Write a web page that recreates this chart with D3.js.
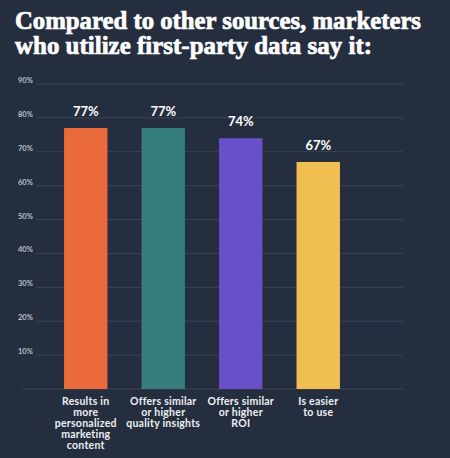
<!DOCTYPE html>
<html>
<head>
<meta charset="utf-8">
<script src="https://cdn.jsdelivr.net/npm/d3@7"></script>
<style>
  html, body { margin: 0; padding: 0; background: #252e3e; }
  svg { display: block; }
</style>
</head>
<body>
<svg id="chart" width="450" height="458"></svg>
<script>
// DATA
const categories = [
  ["Results in", "more", "personalized", "marketing", "content"],
  ["Offers similar", "or higher", "quality insights"],
  ["Offers similar", "or higher", "ROI"],
  ["Is easier", "to use"]
];
const values = [77, 77, 74, 67];
const barColors = ["#ea6a3b", "#367d7d", "#6a4fcb", "#f1be52"];
const yTicks = [10, 20, 30, 40, 50, 60, 70, 80, 90];
const titleLines = [
  "Compared to other sources, marketers",
  "who utilize first-party data say it:"
];

const svg = d3.select("#chart");

// SCALES
const xScale = d3.scaleBand()
  .domain(d3.range(values.length))
  .range([47, 357])
  .paddingInner(0.44)
  .paddingOuter(0.22);

const yScale = d3.scaleLinear()
  .domain([0, 90])
  .range([389, 84]);

// TITLE
svg.append("g")
  .selectAll("text")
  .data(titleLines)
  .join("text")
  .attr("x", 15)
  .attr("y", (d, i) => 29 + i * 25)
  .attr("textLength", (d, i) => i === 0 ? 406 : 357)
  .attr("lengthAdjust", "spacingAndGlyphs")
  .attr("font-family", "'Liberation Serif', serif")
  .attr("font-weight", "bold")
  .attr("font-size", 25)
  .attr("fill", "#ffffff")
  .attr("stroke", "#ffffff")
  .attr("stroke-width", 0.7)
  .text(d => d);

// GRIDLINES + Y LABELS
const grid = svg.append("g");
grid.selectAll("line")
  .data(yTicks)
  .join("line")
  .attr("x1", 36)
  .attr("x2", 403)
  .attr("y1", d => yScale(d))
  .attr("y2", d => yScale(d))
  .attr("stroke", "#3a4556")
  .attr("stroke-width", 1);

grid.selectAll("text")
  .data(yTicks)
  .join("text")
  .attr("x", 18)
  .attr("y", d => yScale(d) - 1)
  .attr("font-family", "Lato, sans-serif")
  .attr("font-weight", "bold")
  .attr("font-size", 7.5)
  .attr("fill", "#b9bfc8")
  .text(d => d + "%");

// baseline
svg.append("line")
  .attr("x1", 22)
  .attr("x2", 403)
  .attr("y1", yScale(0))
  .attr("y2", yScale(0))
  .attr("stroke", "#3a4556")
  .attr("stroke-width", 1);

// BARS
svg.append("g")
  .selectAll("rect")
  .data(values)
  .join("rect")
  .attr("x", (d, i) => xScale(i))
  .attr("width", xScale.bandwidth())
  .attr("y", d => yScale(d))
  .attr("height", d => yScale(0) - yScale(d))
  .attr("fill", (d, i) => barColors[i]);

// VALUE LABELS
svg.append("g")
  .selectAll("text")
  .data(values)
  .join("text")
  .attr("x", (d, i) => xScale(i) + xScale.bandwidth() / 2)
  .attr("y", d => yScale(d) - 12)
  .attr("text-anchor", "middle")
  .attr("font-family", "Lato, sans-serif")
  .attr("font-weight", "bold")
  .attr("font-size", 13)
  .attr("fill", "#ffffff")
  .text(d => d + "%");

// CATEGORY LABELS
const cat = svg.append("g")
  .selectAll("text")
  .data(categories)
  .join("text")
  .attr("x", (d, i) => xScale(i) + xScale.bandwidth() / 2)
  .attr("y", 404.5)
  .attr("text-anchor", "middle")
  .attr("font-family", "Lato, sans-serif")
  .attr("font-weight", "bold")
  .attr("font-size", 10.5)
  .attr("letter-spacing", 0.25)
  .attr("fill", "#eef0f3");

cat.selectAll("tspan")
  .data((d, i) => d.map(line => ({ line, i })))
  .join("tspan")
  .attr("x", d => xScale(d.i) + xScale.bandwidth() / 2)
  .attr("dy", (d, j) => j === 0 ? 0 : 11)
  .text(d => d.line);
</script>
</body>
</html>
